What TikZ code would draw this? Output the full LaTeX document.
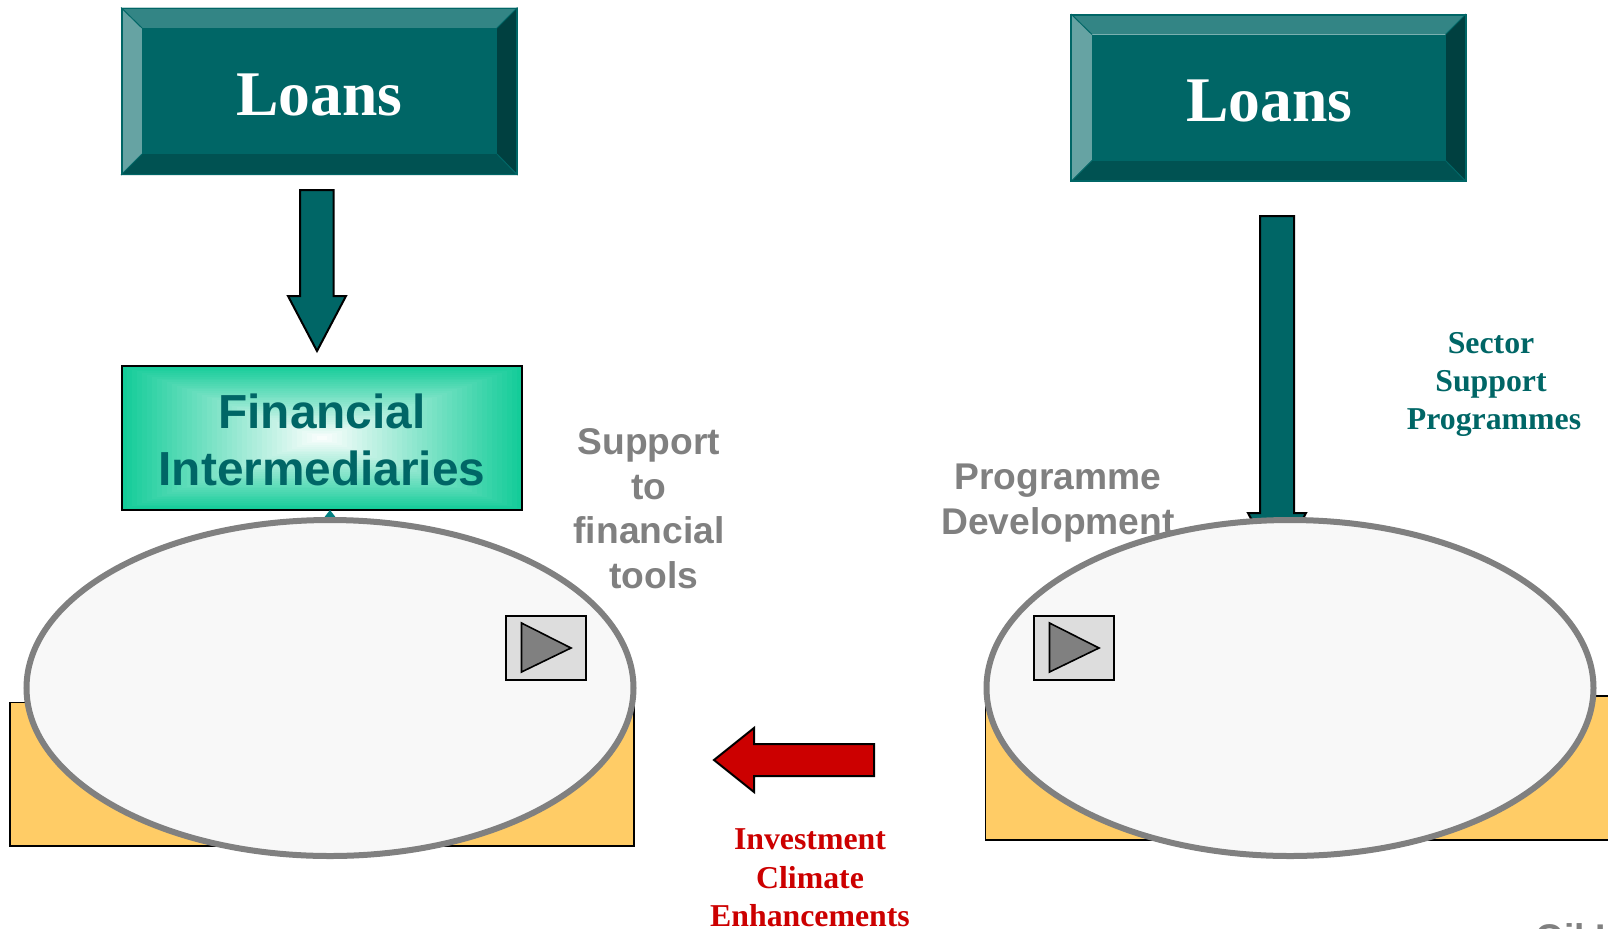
\documentclass[tikz,border=0pt]{standalone}
\usepackage{fontspec}
\usetikzlibrary{shapes.geometric}
\setmainfont{Liberation Serif}
\setsansfont{Liberation Sans}
\definecolor{tealmain}{HTML}{006666}
\definecolor{beveltop}{HTML}{338585}
\definecolor{bevelleft}{HTML}{66A3A3}
\definecolor{bevelright}{HTML}{004040}
\definecolor{bevelbottom}{HTML}{005252}
\definecolor{tealtip}{HTML}{008080}
\definecolor{finedge}{HTML}{14CC99}
\definecolor{orangebox}{HTML}{FFCC66}
\definecolor{ovalfill}{HTML}{F8F8F8}
\definecolor{greytext}{HTML}{808080}
\definecolor{redarrow}{HTML}{CC0000}
\definecolor{btn}{HTML}{DDDDDD}
\newdimen\pxu
\pxu=0.5pt
\tikzset{
  loansbox/.style={draw=tealmain,line width=0.75pt,minimum width=395\pxu,minimum height=166\pxu,inner sep=0pt},
  loanstext/.style={text=white,inner sep=0pt,font=\rmfamily\bfseries\fontsize{31.8}{36}\selectfont},
  blockarrow/.style={draw=black,line width=1pt,fill=tealmain,line join=miter},
  oval/.style={ellipse,draw=greytext,line width=3pt,fill=ovalfill,inner sep=0pt,minimum width=607\pxu,minimum height=336\pxu},
  orangerect/.style={draw=black,line width=0.8pt,fill=orangebox},
  greylabel/.style={text=greytext,align=center,inner sep=0pt,font=\sffamily\bfseries\fontsize{18.6}{22.3}\selectfont},
  seriflabel/.style={align=center,inner sep=0pt,font=\rmfamily\bfseries\fontsize{15.9}{19.2}\selectfont},
  playbtn/.style={draw=black,line width=0.8pt,fill=btn,minimum width=80\pxu,minimum height=64\pxu,inner sep=0pt},
  playtri/.style={draw=black,line width=0.8pt,fill=greytext,line join=miter},
}
\begin{document}
\begin{tikzpicture}[x=0.5pt,y=-0.5pt]
\useasboundingbox (0,0) rectangle (1608,928);
\clip (0,0) rectangle (1608,928);

% orange rectangles
\draw[orangerect] (10,702.5) rectangle (634,846);
\draw[orangerect] (985.5,696) rectangle (1620,840);

% Loans (left)
\fill[beveltop] (121,7.5) -- (517.5,7.5) -- (497,28) -- (142,28) -- cycle;
\fill[bevelleft] (121,7.5) -- (142,28) -- (142,154) -- (121,175) -- cycle;
\fill[bevelright] (517.5,7.5) -- (497,28) -- (497,154) -- (517.5,175) -- cycle;
\fill[bevelbottom] (121,175) -- (142,154) -- (497,154) -- (517.5,175) -- cycle;
\fill[tealmain] (142,28) rectangle (497,154);
\draw[tealmain,line width=0.5pt] (121,7.5) -- (142,28) (517.5,7.5) -- (497,28) (121,175) -- (142,154) (517.5,175) -- (497,154);
\node[loansbox] (loansL) at (319.25,91.25) {};
\node[loanstext] (loansLtext) at (319.25,94.5) {Loans};

% Loans (right)
\fill[beveltop] (1071,14) -- (1466,14) -- (1445.5,34.5) -- (1092,34.5) -- cycle;
\fill[bevelleft] (1071,14) -- (1092,34.5) -- (1092,160.5) -- (1071,181.5) -- cycle;
\fill[bevelright] (1466,14) -- (1445.5,34.5) -- (1445.5,160.5) -- (1466,181.5) -- cycle;
\fill[bevelbottom] (1071,181.5) -- (1092,160.5) -- (1445.5,160.5) -- (1466,181.5) -- cycle;
\fill[tealmain] (1092,34.5) rectangle (1445.5,160.5);
\draw[tealmain,line width=0.5pt] (1071,14) -- (1092,34.5) (1466,14) -- (1445.5,34.5) (1071,181.5) -- (1092,160.5) (1466,181.5) -- (1445.5,160.5);
\node[loansbox] (loansR) at (1268.5,97.75) {};
\node[loanstext] (loansRtext) at (1269.5,101) {Loans};

% Block arrows
\draw[blockarrow] (300,190) -- (333.5,190) -- (333.5,296) -- (346,296) -- (317,351) -- (288,296) -- (300,296) -- cycle;
\draw[blockarrow] (1260,216) -- (1294,216) -- (1294,513) -- (1306,513) -- (1277,567) -- (1248,513) -- (1260,513) -- cycle;
\draw[draw=black,line width=1pt,fill=redarrow] (874,744) -- (754,744) -- (754,728) -- (714,760) -- (754,792) -- (754,776) -- (874,776) -- cycle;

% Financial Intermediaries: gradient
\foreach \i in {0,...,39}{
  \pgfmathsetmacro{\t}{\i/40}
  \pgfmathsetmacro{\mixv}{100*(1-\t)}
  \fill[finedge!\mixv!white] ({122+\t*200},{366+\t*72}) rectangle ({522-\t*200},{510-\t*72});
}
\node[draw=black,line width=1pt,minimum width=400\pxu,minimum height=144\pxu,inner sep=0pt] (fin) at (322,438) {};
\node[text=tealmain,align=center,inner sep=0pt,font=\sffamily\bfseries\fontsize{23.9}{28.5}\selectfont] (fintext) at (322,440) {Financial\\Intermediaries};

% teal tip just under the box
\coordinate (tipL) at (330,510);
\fill[tealtip] (tipL) -- (337,519) -- (323,519) -- cycle;

% labels
\node[greylabel] (prog) at (1058,503) {Programme\\Development};
\node[greylabel] (supp) at (649,508.5) {Support\\to\\financial\\\hspace*{10\pxu}tools};
\node[seriflabel,text=tealmain] (sect) at (1494,384.5) {\hspace*{-6\pxu}Sector\\\hspace*{-6\pxu}Support\\Programmes};
\node[seriflabel,text=redarrow] (inv) at (810,878) {Investment\\Climate\\Enhancements};
\node[greylabel,anchor=base west] (cut) at (1535,950) {Oil I};

% ovals
\node[oval] (ovalL) at (330,688) {};
\node[oval] (ovalR) at (1290,688) {};

% play buttons
\node[playbtn] (btnL) at (546,648) {};
\draw[playtri] (521.5,623) -- (571,648) -- (521.5,672) -- cycle;
\node[playbtn] (btnR) at (1074,648) {};
\draw[playtri] (1049.5,623) -- (1099,648) -- (1049.5,672) -- cycle;
\end{tikzpicture}
\end{document}
